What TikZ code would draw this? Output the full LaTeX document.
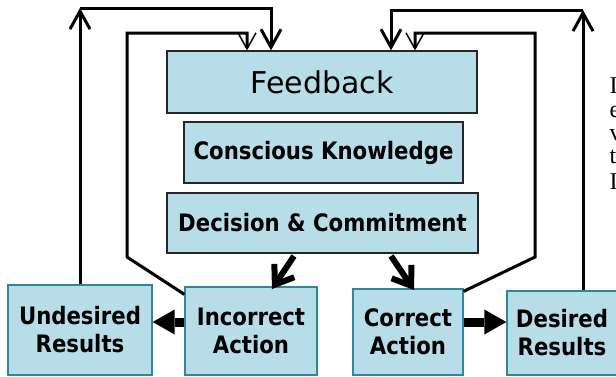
\documentclass[tikz,border=0pt]{standalone}
\usepackage{fontspec}
\setmainfont{DejaVu Sans}
\newfontfamily\lblfont{DejaVu Sans Bold}[FakeStretch=0.885]
\newfontfamily\serfont{Liberation Serif}
\usetikzlibrary{arrows.meta,calc}
\definecolor{boxfill}{RGB}{183,221,232}
\definecolor{boxedge}{RGB}{49,133,156}
\begin{document}
\begin{tikzpicture}[x=1pt,y=-1pt,
  topbox/.style={draw=black!85, line width=1.3pt, fill=boxfill, inner sep=0pt},
  lbl/.style={font=\lblfont\fontsize{24}{28}\selectfont},
  botbox/.style={draw=boxedge, line width=1.3pt, fill=boxfill, inner sep=0pt, align=center, lbl},
  conn/.style={line width=3pt},
  fbarrow/.style={conn, -{Straight Barb[length=18pt,width=20pt]}},
  openarrow/.style={conn, -{Straight Barb[length=16pt,width=18pt,line width=1.5pt]}},
  bigbarb/.style={line width=6pt, -{Straight Barb[length=17pt,width=24pt]}},
  fatarrow/.style={line width=9pt, -{Triangle[length=22pt,width=25pt,line width=0pt]}},
  frag/.style={font=\serfont\fontsize{24}{24}\selectfont, anchor=base west, inner sep=0pt}
]
\useasboundingbox (0,0) rectangle (616,376);

% boxes
\node[topbox, minimum width=310pt, minimum height=62pt, font=\fontsize{30}{34}\selectfont] (fb) at (322,82) {Feedback};
\node[topbox, minimum width=279pt, minimum height=61pt, lbl] (ck) at (323.5,152.5) {Conscious Knowledge};
\node[topbox, minimum width=311pt, minimum height=60pt, lbl] (dc) at (322.5,223) {Decision \& Commitment};
\node[botbox, minimum width=144pt, minimum height=90pt] (ud) at (80,330) {Undesired\\Results};
\node[botbox, minimum width=132pt, minimum height=88pt] (ia) at (251,331) {Incorrect\\Action};
\node[botbox, minimum width=110pt, minimum height=86pt] (ca) at (408,332) {Correct\\Action};
\node[botbox, minimum width=110pt, minimum height=84pt] (dr) at (562,333) {Desired\\Results};

% cut-off text at the right edge
\node[frag] (f1) at (609.5,93) {I};
\node[frag] (f2) at (609.5,117) {e};
\node[frag] (f3) at (609.5,140) {v};
\node[frag] (f4) at (609.5,163) {t};
\node[frag] (f5) at (609.5,189) {I};

% coordinates for routing
\coordinate (lo1) at (80,8);
\coordinate (lo2) at (271,8);
\coordinate (li0) at ($(ia.north west)+(0,8)$);
\coordinate (li1) at (127,257);
\coordinate (li2) at (127,33);
\coordinate (li3) at (247,33);
\coordinate (ri0) at ($(ca.north east)+(0,3)$);
\coordinate (ri1) at (535,257);
\coordinate (ri2) at (535,33);
\coordinate (ri3) at (415,33);
\coordinate (ro1) at (583,10);
\coordinate (ro2) at (391,10);
\coordinate (d1) at (294,256);
\coordinate (t1) at (272,289);
\coordinate (d2) at (391,256);
\coordinate (t2) at (414,290);
\coordinate (h1) at ($(ia.west)+(0,-9)$);
\coordinate (h2) at ($(ca.east)+(0,-10)$);

% feedback loops
\draw[fbarrow] (ud.north) -- (lo1);
\draw[fbarrow] (lo1) -- (lo2) -- (lo2 |- fb.north);
\draw[openarrow] (li0) -- (li1) -- (li2) -- (li3) -- (li3 |- fb.north);
\draw[openarrow] (ri0) -- (ri1) -- (ri2) -- (ri3) -- (ri3 |- fb.north);
\draw[fbarrow] (ro1 |- dr.north) -- (ro1);
\draw[fbarrow] (ro1) -- (ro2) -- (ro2 |- fb.north);

% decision arrows
\draw[bigbarb] (d1) -- (t1);
\draw[bigbarb] (d2) -- (t2);

% result arrows
\draw[fatarrow] (h1) -- (h1 -| ud.east);
\draw[fatarrow] (h2) -- (h2 -| dr.west);
\end{tikzpicture}
\end{document}
